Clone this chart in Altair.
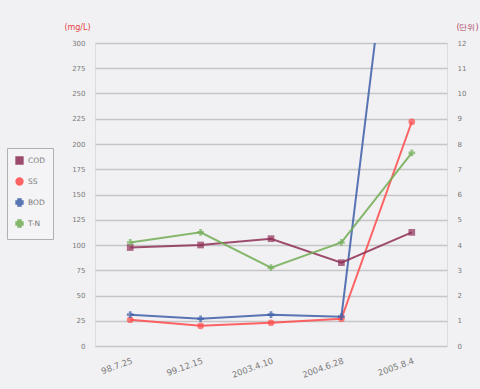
import altair as alt
import pandas as pd

dates = ["98.7.25", "99.12.15", "2003.4.10", "2004.6.28", "2005.8.4"]
names = ["COD", "SS", "BOD", "T-N"]
cod = [3.9, 4.0, 4.25, 3.3, 4.5]      # right axis
ss = [26, 20, 23, 27, 222]             # left axis
bod = [31, 27, 31, 29, 600]            # left axis (runs off the top)
tn = [4.1, 4.5, 3.1, 4.1, 7.65]        # right axis
colors = ["#8e2f55", "#ff4a4a", "#3d5ea8", "#72ad55"]
shapes = ["square", "circle", "cross", "cross"]
left_ticks = list(range(0, 301, 25))
right_ticks = list(range(0, 13, 1))

left = pd.DataFrame({
    "date": dates * 2,
    "series": [names[1]] * 5 + [names[2]] * 5,
    "value": ss + bod,
})
right = pd.DataFrame({
    "date": dates * 2,
    "series": [names[0]] * 5 + [names[3]] * 5,
    "value": cod + tn,
})

xenc = alt.X("date:N", sort=dates, title=None,
             scale=alt.Scale(type="point", padding=0.5),
             axis=alt.Axis(labelAngle=-20, labelAlign="right", labelBaseline="top",
                           labelColor="#7a7a7a", labelFontSize=8.5, labelPadding=10,
                           ticks=False, domain=False, grid=False))
color = alt.Color("series:N", scale=alt.Scale(domain=names, range=colors),
                  legend=alt.Legend(title=None, orient="none", legendX=-88, legendY=105,
                                    strokeColor="#b0b0b0", padding=8, fillColor="#f4f4f6",
                                    labelFontSize=7.5, labelColor="#7a7a7a", rowPadding=6,
                                    symbolSize=40, symbolStrokeWidth=2, labelLimit=60))
shape = alt.Shape("series:N", scale=alt.Scale(domain=names, range=shapes), legend=None)

yl = alt.Y("value:Q", scale=alt.Scale(domain=[0, 300]),
           axis=alt.Axis(values=left_ticks, title="(mg/L)", titleColor="#e84545",
                         titleAngle=0, titleX=-18, titleY=-12, titleFontSize=8,
                         titleFontWeight="normal", titleAlign="center",
                         labelColor="#7a7a7a", labelFontSize=7, ticks=False, domain=False,
                         labelPadding=10, gridColor="#c6c6c6", gridWidth=1.6))
yr = alt.Y("value:Q", scale=alt.Scale(domain=[0, 12]),
           axis=alt.Axis(values=right_ticks, orient="right", title="(단위)",
                         titleColor="#b04a6a", titleAngle=0, titleX=20, titleY=-12,
                         titleFontSize=8, titleFontWeight="normal", titleAlign="center",
                         labelColor="#7a7a7a", labelFontSize=7, ticks=False, domain=False,
                         labelPadding=10, grid=False))

lb = alt.Chart(left)
lline = lb.mark_line(strokeWidth=2, clip=True, opacity=0.85).encode(x=xenc, y=yl, color=color, detail="series:N")
lpt = lb.mark_point(filled=True, size=45, clip=True).encode(x=xenc, y=yl, color=color, shape=shape)
rb = alt.Chart(right)
rline = rb.mark_line(strokeWidth=2, clip=True, opacity=0.85).encode(x=xenc, y=yr, color=color, detail="series:N")
rpt = rb.mark_point(filled=True, size=45, clip=True).encode(x=xenc, y=yr, color=color, shape=shape)

chart = alt.layer(alt.layer(lline, lpt), alt.layer(rline, rpt)).resolve_scale(y="independent").properties(
    width=352, height=303, background="#f1f1f3",
    padding={"left": 95, "top": 43, "right": 33, "bottom": 43},
    autosize=alt.AutoSizeParams(type="none"),
).configure_view(stroke="#b4b4b4", strokeWidth=1.5, fill="#f6f6f7").configure(font="DejaVu Sans")

chart.save("out.html", embed_options={"renderer": "svg", "actions": False})
